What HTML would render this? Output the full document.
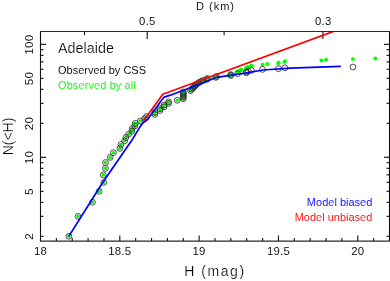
<!DOCTYPE html>
<html><head><meta charset="utf-8"><title>Adelaide N(&lt;H)</title>
<style>html,body{margin:0;padding:0;background:#fff;overflow:hidden}svg{display:block;will-change:transform}text{font-family:"Liberation Sans",sans-serif;stroke:#fff;stroke-width:0.06px}text.big{stroke-width:0.2px}</style>
</head><body>
<svg width="390" height="281" viewBox="0 0 390 281">
<rect width="390" height="281" fill="#fff"/>
<path d="M40.0,31.5H390.0M40.0,241.1H390.0M40.5,236.33h3.0M389.5,236.33h-3.0M40.5,216.43h3.0M389.5,216.43h-3.0M40.5,202.32h3.0M389.5,202.32h-3.0M40.5,191.37h3.0M389.5,191.37h-3.0M40.5,182.42h3.0M389.5,182.42h-3.0M40.5,174.86h3.0M389.5,174.86h-3.0M40.5,168.31h3.0M389.5,168.31h-3.0M40.5,162.53h3.0M389.5,162.53h-3.0M40.5,157.36h5.6M389.5,157.36h-5.6M40.5,123.35h3.0M389.5,123.35h-3.0M40.5,103.45h3.0M389.5,103.45h-3.0M40.5,89.33h3.0M389.5,89.33h-3.0M40.5,78.39h3.0M389.5,78.39h-3.0M40.5,69.44h3.0M389.5,69.44h-3.0M40.5,61.88h3.0M389.5,61.88h-3.0M40.5,55.32h3.0M389.5,55.32h-3.0M40.5,49.54h3.0M389.5,49.54h-3.0M40.5,44.37h5.6M389.5,44.37h-5.6" fill="none" stroke="#2a2a2a" stroke-width="1.2"/>
<path d="M40.5,31.5V241.1M389.5,31.5V241.1M40.50,241.1v-5.6M56.36,241.1v-3.0M72.23,241.1v-3.0M88.09,241.1v-3.0M103.95,241.1v-3.0M119.82,241.1v-5.6M135.68,241.1v-3.0M151.55,241.1v-3.0M167.41,241.1v-3.0M183.27,241.1v-3.0M199.14,241.1v-5.6M215.00,241.1v-3.0M230.86,241.1v-3.0M246.73,241.1v-3.0M262.59,241.1v-3.0M278.45,241.1v-5.6M294.32,241.1v-3.0M310.18,241.1v-3.0M326.05,241.1v-3.0M341.91,241.1v-3.0M357.77,241.1v-5.6M373.64,241.1v-3.0M389.50,241.1v-3.0M84.50,31.5v3.8M147.20,31.5v7.6M224.10,31.5v3.8M322.90,31.5v7.6" fill="none" stroke="#111" stroke-width="1.1"/>
<g fill="#00ff00">
<circle cx="68.8" cy="236.3" r="1.8"/>
<circle cx="78.1" cy="216.4" r="1.8"/>
<circle cx="92.5" cy="202.3" r="1.8"/>
<circle cx="99.2" cy="191.4" r="1.8"/>
<circle cx="103.8" cy="182.4" r="1.8"/>
<circle cx="103.3" cy="174.9" r="1.8"/>
<circle cx="105.4" cy="168.3" r="1.8"/>
<circle cx="105.5" cy="162.5" r="1.8"/>
<circle cx="110.2" cy="157.4" r="1.8"/>
<circle cx="113.4" cy="152.7" r="1.8"/>
<circle cx="119.9" cy="148.4" r="1.8"/>
<circle cx="121.0" cy="144.5" r="1.8"/>
<circle cx="124.6" cy="140.8" r="1.8"/>
<circle cx="125.9" cy="137.5" r="1.8"/>
<circle cx="128.6" cy="134.3" r="1.8"/>
<circle cx="131.8" cy="131.3" r="1.8"/>
<circle cx="132.3" cy="128.5" r="1.8"/>
<circle cx="134.8" cy="125.9" r="1.8"/>
<circle cx="135.4" cy="123.3" r="1.8"/>
<circle cx="140.3" cy="121.0" r="1.8"/>
<circle cx="144.4" cy="118.7" r="1.8"/>
<circle cx="146.5" cy="116.5" r="1.8"/>
<circle cx="154.9" cy="114.4" r="1.8"/>
<circle cx="154.9" cy="112.4" r="1.8"/>
<circle cx="160.0" cy="110.5" r="1.8"/>
<circle cx="160.0" cy="108.6" r="1.8"/>
<circle cx="164.1" cy="106.8" r="1.8"/>
<circle cx="164.1" cy="105.1" r="1.8"/>
<circle cx="168.6" cy="103.5" r="1.8"/>
<circle cx="168.6" cy="101.8" r="1.8"/>
<circle cx="177.3" cy="100.3" r="1.8"/>
<circle cx="183.3" cy="98.8" r="1.8"/>
<circle cx="183.3" cy="97.3" r="1.8"/>
<circle cx="183.3" cy="95.9" r="1.8"/>
<circle cx="183.3" cy="94.5" r="1.8"/>
<circle cx="183.3" cy="93.2" r="1.8"/>
<circle cx="183.3" cy="91.9" r="1.8"/>
<circle cx="190.5" cy="90.6" r="1.8"/>
<circle cx="191.5" cy="89.3" r="1.8"/>
<circle cx="193.0" cy="88.1" r="1.8"/>
<circle cx="194.0" cy="86.9" r="1.8"/>
<circle cx="195.0" cy="85.8" r="1.8"/>
<circle cx="196.0" cy="84.7" r="1.8"/>
<circle cx="197.5" cy="83.6" r="1.8"/>
<circle cx="199.0" cy="82.5" r="1.8"/>
<circle cx="201.0" cy="81.4" r="1.8"/>
<circle cx="203.0" cy="80.4" r="1.8"/>
<circle cx="206.7" cy="79.4" r="1.8"/>
<circle cx="207.5" cy="78.4" r="1.8"/>
<circle cx="215.8" cy="77.4" r="1.8"/>
<circle cx="216.5" cy="76.5" r="1.8"/>
<circle cx="229.8" cy="75.5" r="1.95"/>
<circle cx="230.8" cy="74.6" r="1.95"/>
<circle cx="230.8" cy="73.7" r="1.95"/>
<circle cx="237.6" cy="72.8" r="1.95"/>
<circle cx="237.6" cy="72.0" r="1.95"/>
<circle cx="237.6" cy="71.1" r="1.95"/>
<circle cx="241.0" cy="70.3" r="1.95"/>
<circle cx="241.0" cy="69.4" r="1.95"/>
<circle cx="246.2" cy="68.6" r="1.95"/>
<circle cx="246.2" cy="67.8" r="1.95"/>
<circle cx="248.0" cy="67.0" r="1.95"/>
<circle cx="251.3" cy="66.3" r="1.95"/>
<circle cx="251.3" cy="65.5" r="1.95"/>
<circle cx="262.6" cy="64.8" r="1.95"/>
<circle cx="267.4" cy="64.0" r="1.95"/>
<circle cx="278.3" cy="63.3" r="1.95"/>
<circle cx="278.6" cy="62.6" r="1.95"/>
<circle cx="284.5" cy="61.9" r="1.95"/>
<circle cx="285.0" cy="61.2" r="1.95"/>
<circle cx="321.4" cy="60.5" r="1.95"/>
<circle cx="326.1" cy="59.8" r="1.95"/>
<circle cx="352.9" cy="59.1" r="1.95"/>
<circle cx="375.3" cy="58.5" r="1.95"/>
</g>
<g fill="none" stroke="#2e2e2e" stroke-width="0.85">
<circle cx="68.8" cy="236.3" r="2.9"/>
<circle cx="78.1" cy="216.4" r="2.9"/>
<circle cx="92.5" cy="202.3" r="2.9"/>
<circle cx="99.2" cy="191.4" r="2.9"/>
<circle cx="103.8" cy="182.4" r="2.9"/>
<circle cx="103.3" cy="174.9" r="2.9"/>
<circle cx="105.4" cy="168.3" r="2.9"/>
<circle cx="105.5" cy="162.5" r="2.9"/>
<circle cx="110.2" cy="157.4" r="2.9"/>
<circle cx="113.4" cy="152.7" r="2.9"/>
<circle cx="119.9" cy="148.4" r="2.9"/>
<circle cx="121.0" cy="144.5" r="2.9"/>
<circle cx="124.6" cy="140.8" r="2.9"/>
<circle cx="125.9" cy="137.5" r="2.9"/>
<circle cx="128.6" cy="134.3" r="2.9"/>
<circle cx="131.8" cy="131.3" r="2.9"/>
<circle cx="132.3" cy="128.5" r="2.9"/>
<circle cx="134.8" cy="125.9" r="2.9"/>
<circle cx="135.4" cy="123.3" r="2.9"/>
<circle cx="140.3" cy="121.0" r="2.9"/>
<circle cx="144.4" cy="118.7" r="2.9"/>
<circle cx="146.5" cy="116.5" r="2.9"/>
<circle cx="154.9" cy="114.4" r="2.9"/>
<circle cx="154.9" cy="112.4" r="2.9"/>
<circle cx="160.0" cy="110.5" r="2.9"/>
<circle cx="160.0" cy="108.6" r="2.9"/>
<circle cx="164.1" cy="106.8" r="2.9"/>
<circle cx="164.1" cy="105.1" r="2.9"/>
<circle cx="168.6" cy="103.5" r="2.9"/>
<circle cx="168.6" cy="101.8" r="2.9"/>
<circle cx="177.3" cy="100.3" r="2.9"/>
<circle cx="183.3" cy="98.8" r="2.9"/>
<circle cx="183.3" cy="97.3" r="2.9"/>
<circle cx="183.3" cy="95.9" r="2.9"/>
<circle cx="183.3" cy="94.5" r="2.9"/>
<circle cx="183.3" cy="93.2" r="2.9"/>
<circle cx="183.3" cy="91.9" r="2.9"/>
<circle cx="190.5" cy="90.6" r="2.9"/>
<circle cx="191.5" cy="89.3" r="2.9"/>
<circle cx="193.0" cy="88.1" r="2.9"/>
<circle cx="194.0" cy="86.9" r="2.9"/>
<circle cx="195.0" cy="85.8" r="2.9"/>
<circle cx="196.0" cy="84.7" r="2.9"/>
<circle cx="197.5" cy="83.6" r="2.9"/>
<circle cx="199.0" cy="82.5" r="2.9"/>
<circle cx="201.0" cy="81.4" r="2.9"/>
<circle cx="203.0" cy="80.4" r="2.9"/>
<circle cx="206.7" cy="79.4" r="2.9"/>
<circle cx="207.5" cy="78.4" r="2.9"/>
<circle cx="215.8" cy="77.4" r="2.9"/>
<circle cx="216.5" cy="76.5" r="2.9"/>
<circle cx="230.8" cy="75.5" r="2.9"/>
<circle cx="230.8" cy="74.6" r="2.9"/>
<circle cx="237.6" cy="73.7" r="2.9"/>
<circle cx="246.4" cy="72.8" r="2.9"/>
<circle cx="246.4" cy="72.0" r="2.9"/>
<circle cx="248.2" cy="71.1" r="2.9"/>
<circle cx="251.4" cy="70.3" r="2.9"/>
<circle cx="262.5" cy="69.4" r="2.9"/>
<circle cx="278.5" cy="68.6" r="2.9"/>
<circle cx="284.9" cy="67.8" r="2.9"/>
<circle cx="352.9" cy="67.0" r="2.9"/>
</g>
<clipPath id="fr"><rect x="40" y="32.0" width="350" height="211"/></clipPath>
<g clip-path="url(#fr)"><polyline fill="none" stroke="#ff0000" stroke-width="1.75" stroke-linejoin="round" points="143.8,120.6 162.8,94.3 341.4,28.5"/></g>
<polyline fill="none" stroke="#0000ff" stroke-width="1.75" stroke-linejoin="round" points="68.8,236.4 102.2,183.2 131.0,141.6 140.8,125.6 143.0,122.8 147.2,119.9 162.1,99.5 164.2,97.1 170.4,95.2 200.0,84.0 216.8,77.3 245.0,73.2 263.0,70.0 290.0,68.2 340.8,66.3"/>
<g font-family="Liberation Sans, sans-serif" fill="#000">
<text x="40.5" y="255" font-size="11.4" letter-spacing="0.2" text-anchor="middle">18</text>
<text x="119.8" y="255" font-size="11.4" letter-spacing="0.2" text-anchor="middle">18.5</text>
<text x="199.1" y="255" font-size="11.4" letter-spacing="0.2" text-anchor="middle">19</text>
<text x="278.5" y="255" font-size="11.4" letter-spacing="0.2" text-anchor="middle">19.5</text>
<text x="357.8" y="255" font-size="11.4" letter-spacing="0.2" text-anchor="middle">20</text>
<text x="147.4" y="25" font-size="11.3" letter-spacing="0.3" text-anchor="middle">0.5</text>
<text x="323.2" y="25" font-size="11.3" letter-spacing="0.3" text-anchor="middle">0.3</text>
<text x="215.5" y="9.5" font-size="11" text-anchor="middle" letter-spacing="1">D (km)</text>
<text x="184.2" y="276.3" class="big" font-size="14" letter-spacing="1.55">H (mag)</text>
<text transform="translate(33.2,236.5) rotate(-90)" font-size="11.7" letter-spacing="0.2" text-anchor="middle">2</text>
<text transform="translate(33.2,191.6) rotate(-90)" font-size="11.7" letter-spacing="0.2" text-anchor="middle">5</text>
<text transform="translate(33.2,157.6) rotate(-90)" font-size="11.7" letter-spacing="0.2" text-anchor="middle">10</text>
<text transform="translate(33.2,123.5) rotate(-90)" font-size="11.7" letter-spacing="0.2" text-anchor="middle">20</text>
<text transform="translate(33.2,78.6) rotate(-90)" font-size="11.7" letter-spacing="0.2" text-anchor="middle">50</text>
<text transform="translate(33.2,44.6) rotate(-90)" font-size="11.7" letter-spacing="0.2" text-anchor="middle">100</text>
<text transform="translate(13,136.5) rotate(-90)" class="big" font-size="14" text-anchor="middle">N(&lt;H)</text>
<text x="58" y="52.5" class="big" font-size="14.3" letter-spacing="0.05">Adelaide</text>
<text x="58" y="74.3" font-size="11">Observed by CSS</text>
</g>
<text x="58" y="89.2" font-size="11" font-family="Liberation Sans, sans-serif" fill="#00ff00" letter-spacing="0.1">Observed by all</text>
<text x="372.3" y="206" font-size="11" font-family="Liberation Sans, sans-serif" fill="#0000ff" text-anchor="end">Model biased</text>
<text x="372.3" y="220.8" font-size="11" font-family="Liberation Sans, sans-serif" fill="#ff0000" text-anchor="end">Model unbiased</text>
</svg>
</body></html>
